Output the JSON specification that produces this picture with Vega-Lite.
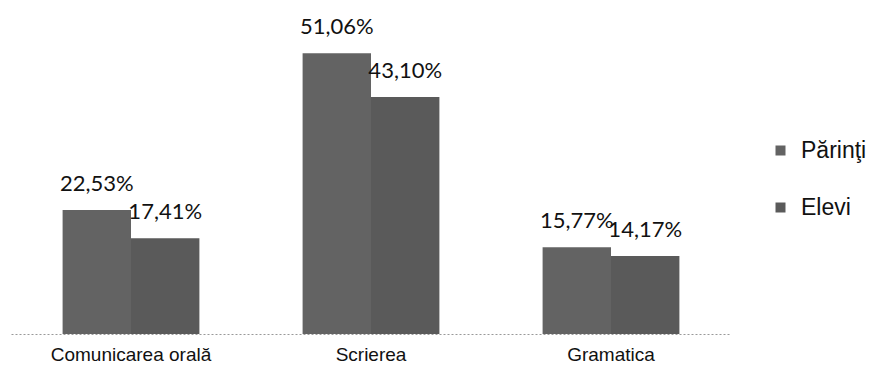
{
  "$schema": "https://vega.github.io/schema/vega-lite/v6.json",
  "autosize": "none",
  "width": 720,
  "height": 330,
  "padding": {"left": 11, "top": 4, "right": 156, "bottom": 44},
  "background": "white",
  "config": {"view": {"stroke": null}},
  "data": {"values": [
    {"categorie": "Comunicarea orală", "grup": "Părinţi", "procent": 22.53, "eticheta": "22,53%"},
    {"categorie": "Comunicarea orală", "grup": "Elevi", "procent": 17.41, "eticheta": "17,41%"},
    {"categorie": "Scrierea", "grup": "Părinţi", "procent": 51.06, "eticheta": "51,06%"},
    {"categorie": "Scrierea", "grup": "Elevi", "procent": 43.10, "eticheta": "43,10%"},
    {"categorie": "Gramatica", "grup": "Părinţi", "procent": 15.77, "eticheta": "15,77%"},
    {"categorie": "Gramatica", "grup": "Elevi", "procent": 14.17, "eticheta": "14,17%"}
  ]},
  "encoding": {
    "x": {
      "field": "categorie", "type": "nominal",
      "sort": ["Comunicarea orală", "Scrierea", "Gramatica"],
      "scale": {"paddingInner": 0.43, "paddingOuter": 0.215},
      "axis": {"title": null, "labelAngle": 0, "domain": true, "domainColor": "#999999", "domainDash": [2, 2], "domainWidth": 1, "ticks": false, "labelFontSize": 19, "labelFont": "Liberation Sans", "labelColor": "#111111", "labelPadding": 11}
    },
    "xOffset": {"field": "grup", "type": "nominal", "sort": ["Părinţi", "Elevi"]},
    "y": {"field": "procent", "type": "quantitative", "scale": {"domain": [0, 60]}, "axis": null}
  },
  "layer": [
    {
      "mark": {"type": "bar"},
      "encoding": {
        "color": {
          "field": "grup", "type": "nominal", "sort": ["Părinţi", "Elevi"],
          "scale": {"domain": ["Părinţi", "Elevi"], "range": ["#636363", "#5a5a5a"]},
          "legend": {"title": null, "orient": "none", "legendX": 758, "legendY": 135, "symbolType": "square", "symbolSize": 100, "labelFontSize": 23, "labelFont": "Liberation Sans", "labelColor": "#111111", "rowPadding": 33, "labelOffset": 9}
        }
      }
    },
    {
      "mark": {"type": "text", "baseline": "bottom", "dy": -14, "fontSize": 22, "font": "Lato", "color": "#111111"},
      "encoding": {"text": {"field": "eticheta", "type": "nominal"}}
    }
  ]
}
